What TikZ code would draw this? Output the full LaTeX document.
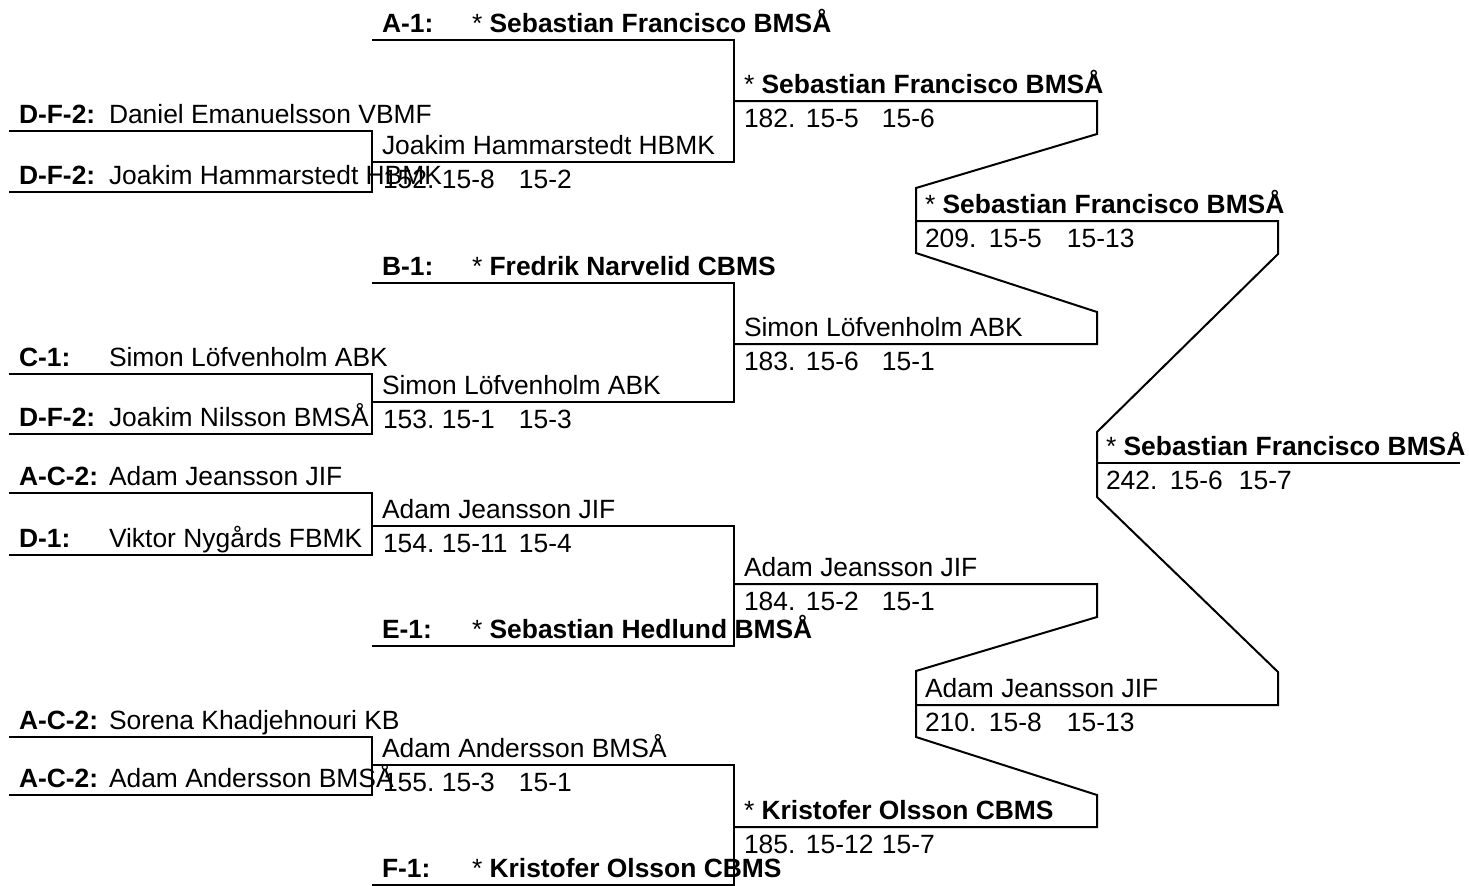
\documentclass[tikz,border=0pt]{standalone}
\usepackage{fontspec}
\setmainfont{Liberation Sans}

\begin{document}
\begin{tikzpicture}[x=0.5pt,y=-0.5pt,line width=1pt,
  every node/.style={inner sep=0pt,anchor=base west,font=\fontsize{13.2}{16}\selectfont},
  pool/.style={font=\fontsize{13.2}{16}\selectfont\bfseries}]
\useasboundingbox (0,0) rectangle (1469,885);
% line ends
\coordinate (daniel) at (9,131);
\coordinate (hammar) at (9,192);
\coordinate (lofv) at (9,374);
\coordinate (nilsson) at (9,434);
\coordinate (jeansson) at (9,493);
\coordinate (nygards) at (9,555);
\coordinate (sorena) at (9,737);
\coordinate (andersson) at (9,795);
\coordinate (a1) at (372,40);
\coordinate (m152) at (372,162);
\coordinate (b1) at (372,283);
\coordinate (m153) at (372,402);
\coordinate (m154) at (372,526);
\coordinate (e1) at (372,646);
\coordinate (m155) at (372,765);
\coordinate (f1) at (372,885);
\coordinate (m182) at (734,101);
\coordinate (m183) at (734,344);
\coordinate (m184) at (734,584);
\coordinate (m185) at (734,827);
\coordinate (m209) at (916,221);
\coordinate (m210) at (916,705);
\coordinate (m242) at (1097,463);
% brackets
\draw (daniel) -- ++(363,0) |- (hammar);
\draw (lofv) -- ++(363,0) |- (nilsson);
\draw (jeansson) -- ++(363,0) |- (nygards);
\draw (sorena) -- ++(363,0) |- (andersson);
\draw (a1) -- ++(362,0) |- (m152);
\draw (b1) -- ++(362,0) |- (m153);
\draw (m154) -- ++(362,0) |- (e1);
\draw (m155) -- ++(362,0) |- (f1);
\draw (m182) -- ++(363,0) -- ++(0,33) -- ++(-181,54) -- ++(0,65) -- ++(181,59) |- (m183);
\draw (m184) -- ++(363,0) -- ++(0,33) -- ++(-181,54) -- ++(0,66) -- ++(181,58) |- (m185);
\draw (m209) -- ++(362,0) -- ++(0,33) -- ++(-181,178) -- ++(0,65) -- ++(181,175) |- (m210);
\draw (m242) -- ++(363,0);
% first column
\node[pool] (pdaniel) at (18,123) {D-F-2:};
\node (ndaniel) at (108,123) {Daniel Emanuelsson VBMF};
\node[pool] (phammar) at (18,184) {D-F-2:};
\node (nhammar) at (108,184) {Joakim Hammarstedt HBMK};
\node[pool] (plofv) at (18,366) {C-1:};
\node (nlofv) at (108,366) {Simon Löfvenholm ABK};
\node[pool] (pnilsson) at (18,426) {D-F-2:};
\node (nnilsson) at (108,426) {Joakim Nilsson BMSÅ};
\node[pool] (pjeansson) at (18,485) {A-C-2:};
\node (njeansson) at (108,485) {Adam Jeansson JIF};
\node[pool] (pnygards) at (18,547) {D-1:};
\node (nnygards) at (108,547) {Viktor Nygårds FBMK};
\node[pool] (psorena) at (18,729) {A-C-2:};
\node (nsorena) at (108,729) {Sorena Khadjehnouri KB};
\node[pool] (pandersson) at (18,787) {A-C-2:};
\node (nandersson) at (108,787) {Adam Andersson BMSÅ};
% second column
\node[pool] (pa1) at (381,32) {A-1:};
\node[pool] (na1) at (471,32) {\textmd{*} Sebastian Francisco BMSÅ};
\node (n152) at (381,154) {Joakim Hammarstedt HBMK};
\node (s152) at (382,188) {\makebox[29.5pt][l]{152.}\makebox[38.5pt][l]{15-8}15-2};
\node[pool] (pb1) at (381,275) {B-1:};
\node[pool] (nb1) at (471,275) {\textmd{*} Fredrik Narvelid CBMS};
\node (n153) at (381,394) {Simon Löfvenholm ABK};
\node (s153) at (382,428) {\makebox[29.5pt][l]{153.}\makebox[38.5pt][l]{15-1}15-3};
\node (n154) at (381,518) {Adam Jeansson JIF};
\node (s154) at (382,552) {\makebox[29.5pt][l]{154.}\makebox[38.5pt][l]{15-11}15-4};
\node[pool] (pe1) at (381,638) {E-1:};
\node[pool] (ne1) at (471,638) {\textmd{*} Sebastian Hedlund BMSÅ};
\node (n155) at (381,757) {Adam Andersson BMSÅ};
\node (s155) at (382,791) {\makebox[29.5pt][l]{155.}\makebox[38.5pt][l]{15-3}15-1};
\node[pool] (pf1) at (381,877) {F-1:};
\node[pool] (nf1) at (471,877) {\textmd{*} Kristofer Olsson CBMS};
% third column
\node[pool] (n182) at (743,93) {\textmd{*} Sebastian Francisco BMSÅ};
\node (s182) at (743,127) {\makebox[31pt][l]{182.}\makebox[38pt][l]{15-5}15-6};
\node (n183) at (743,336) {Simon Löfvenholm ABK};
\node (s183) at (743,370) {\makebox[31pt][l]{183.}\makebox[38pt][l]{15-6}15-1};
\node (n184) at (743,576) {Adam Jeansson JIF};
\node (s184) at (743,610) {\makebox[31pt][l]{184.}\makebox[38pt][l]{15-2}15-1};
\node[pool] (n185) at (743,819) {\textmd{*} Kristofer Olsson CBMS};
\node (s185) at (743,853) {\makebox[31pt][l]{185.}\makebox[38pt][l]{15-12}15-7};
% semifinals and final
\node[pool] (n209) at (924,213) {\textmd{*} Sebastian Francisco BMSÅ};
\node (s209) at (924,247) {\makebox[32pt][l]{209.}\makebox[39pt][l]{15-5}15-13};
\node (n210) at (924,697) {Adam Jeansson JIF};
\node (s210) at (924,731) {\makebox[32pt][l]{210.}\makebox[39pt][l]{15-8}15-13};
\node[pool] (n242) at (1105,455) {\textmd{*} Sebastian Francisco BMSÅ};
\node (s242) at (1105,489) {\makebox[32pt][l]{242.}\makebox[34.5pt][l]{15-6}15-7};
\end{tikzpicture}
\end{document}
